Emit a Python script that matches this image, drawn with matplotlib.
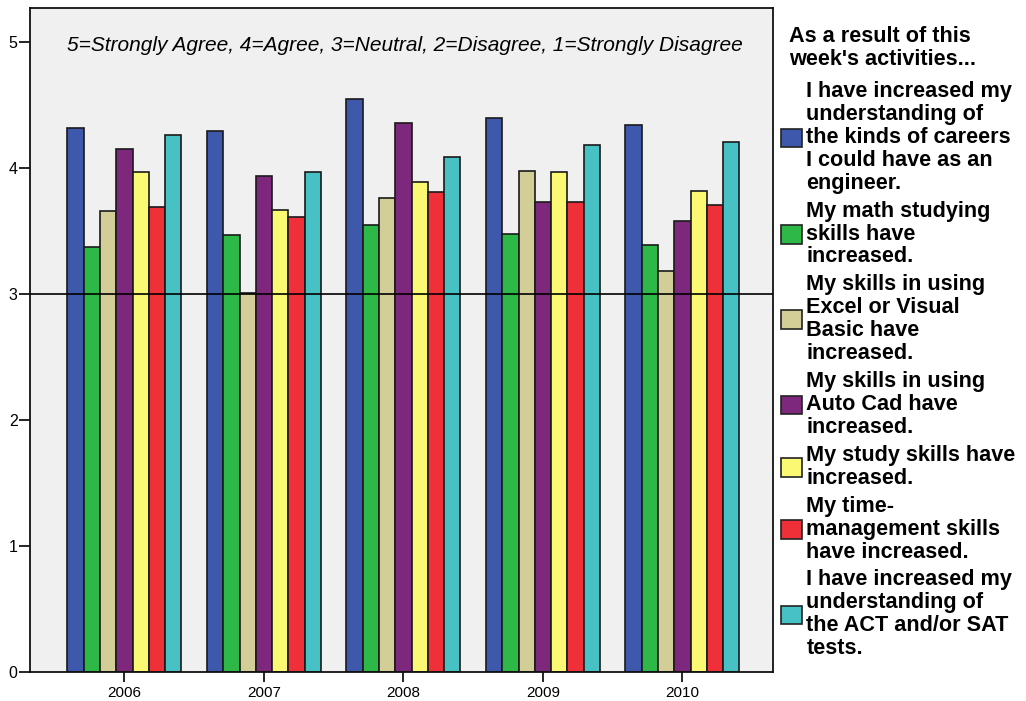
import numpy as np
import matplotlib
matplotlib.use("Agg")
import matplotlib.pyplot as plt
from matplotlib.patches import Patch

plt.rcParams['font.family'] = ['Liberation Sans', 'DejaVu Sans']

years = ["2006", "2007", "2008", "2009", "2010"]

careers = [4.32, 4.29, 4.55, 4.40, 4.34]
math_skills = [3.37, 3.47, 3.55, 3.48, 3.39]
excel_vb = [3.66, 3.01, 3.76, 3.98, 3.18]
autocad = [4.15, 3.94, 4.36, 3.73, 3.58]
study_skills = [3.97, 3.67, 3.89, 3.97, 3.82]
time_mgmt = [3.69, 3.61, 3.81, 3.73, 3.71]
act_sat = [4.26, 3.97, 4.09, 4.18, 4.21]

series_labels = [
    "I have increased my\nunderstanding of\nthe kinds of careers\nI could have as an\nengineer.",
    "My math studying\nskills have\nincreased.",
    "My skills in using\nExcel or Visual\nBasic have\nincreased.",
    "My skills in using\nAuto Cad have\nincreased.",
    "My study skills have\nincreased.",
    "My time-\nmanagement skills\nhave increased.",
    "I have increased my\nunderstanding of\nthe ACT and/or SAT\ntests.",
]
series_values = [careers, math_skills, excel_vb, autocad, study_skills, time_mgmt, act_sat]
colors = ["#3E58AC", "#2EB848", "#D3CE97", "#7D287D", "#FBF873", "#EF3038", "#48C1C5"]

fig = plt.figure(figsize=(10.26, 7.01), dpi=100)
ax = fig.add_axes([30 / 1026, 1 - 672 / 701, (773 - 30) / 1026, (672 - 8) / 701])
ax.set_facecolor("#F0F0F0")

x = np.arange(len(years))
n = len(series_values)
group_w = 0.817
bw = group_w / n
for i, (vals, c) in enumerate(zip(series_values, colors)):
    offs = -group_w / 2 + bw * (i + 0.5)
    ax.bar(x + offs, vals, width=bw, color=c, edgecolor="#1a1a1a", linewidth=1.2, zorder=2)

ax.axhline(3, color="black", linewidth=1.2, zorder=3)

ax.set_xlim(-0.677, 4.649)
ax.set_ylim(0, 5.27)
ax.set_xticks(x)
ax.set_xticklabels(years, fontsize=11)
ax.set_yticks(range(0, 6))
ax.set_yticklabels([str(v) for v in range(0, 6)], fontsize=11.5)
ax.tick_params(axis="x", length=7, width=1.2, pad=3)
ax.tick_params(axis="y", length=8, width=1.2, pad=1)
for s in ax.spines.values():
    s.set_linewidth(1.3)
    s.set_color("#111111")

ax.text(0.05, 0.944, "5=Strongly Agree, 4=Agree, 3=Neutral, 2=Disagree, 1=Strongly Disagree",
        transform=ax.transAxes, fontsize=15, style="italic", va="center", ha="left")

fig.text(789 / 1026, 1 - 26 / 701, "As a result of this\nweek's activities...",
         fontsize=15.6, fontweight="bold", va="top", ha="left", linespacing=1.12)

handles = [Patch(facecolor=c, edgecolor="#222222", linewidth=1.2) for c in colors]
leg = fig.legend(handles, series_labels, loc="upper left",
                 bbox_to_anchor=(781 / 1026, 1 - 81 / 701),
                 frameon=False, borderpad=0, borderaxespad=0,
                 handlelength=0.95, handleheight=0.95, handletextpad=0.22,
                 labelspacing=0.32,
                 prop={"size": 15.6, "weight": "bold"})
for t in leg.get_texts():
    t.set_linespacing(1.12)

fig.savefig("out.png", dpi=100)
